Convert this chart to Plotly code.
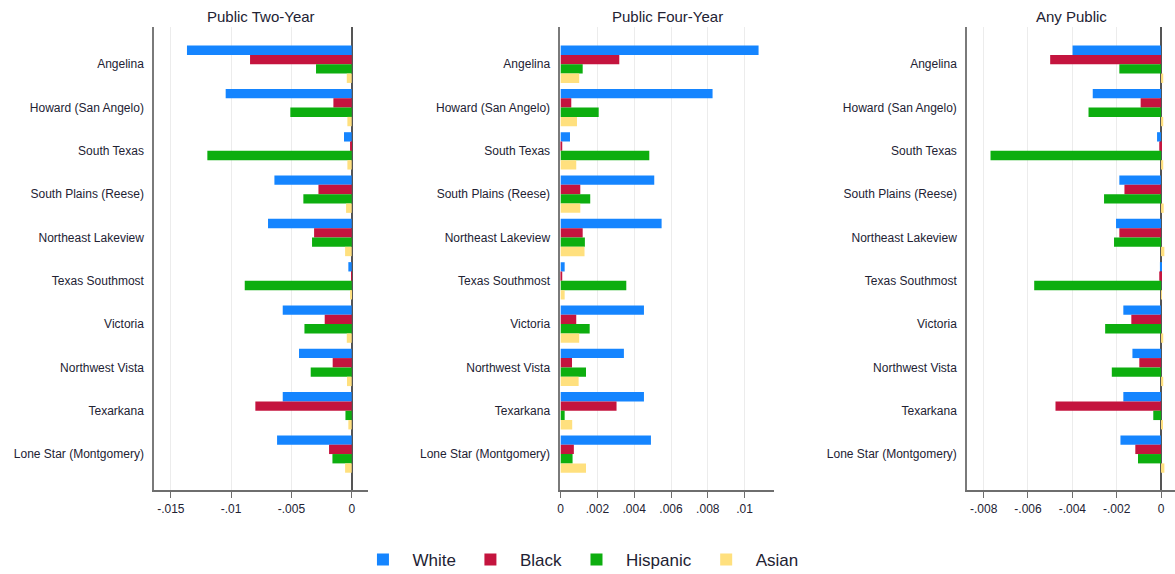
import plotly.graph_objects as go

colleges = ["Angelina", "Howard (San Angelo)", "South Texas", "South Plains (Reese)",
            "Northeast Lakeview", "Texas Southmost", "Victoria", "Northwest Vista",
            "Texarkana", "Lone Star (Montgomery)"]
groups = ["White", "Black", "Hispanic", "Asian"]
panel_titles = ["Public Two-Year", "Public Four-Year", "Any Public"]

# Public Two-Year
two_white = [-0.01366, -0.01045, -0.00064, -0.00641, -0.00694, -0.00028, -0.00572, -0.00437, -0.00572, -0.00619]
two_black = [-0.00843, -0.00152, -0.00014, -0.00276, -0.00312, -0.00005, -0.00224, -0.00158, -0.00799, -0.00188]
two_hisp = [-0.00296, -0.00509, -0.01197, -0.00401, -0.00329, -0.00887, -0.00392, -0.00340, -0.00052, -0.00160]
two_asian = [-0.00041, -0.00036, -0.00036, -0.00047, -0.00055, -0.00010, -0.00041, -0.00039, -0.00028, -0.00055]

# Public Four-Year
four_white = [0.01076, 0.00826, 0.00051, 0.00509, 0.00549, 0.00022, 0.00453, 0.00344, 0.00453, 0.00491]
four_black = [0.00319, 0.00058, 0.00005, 0.00107, 0.00120, 0.00005, 0.00085, 0.00062, 0.00304, 0.00072]
four_hisp = [0.00120, 0.00207, 0.00482, 0.00161, 0.00132, 0.00357, 0.00158, 0.00138, 0.00022, 0.00065]
four_asian = [0.00101, 0.00089, 0.00085, 0.00107, 0.00130, 0.00022, 0.00101, 0.00098, 0.00063, 0.00138]

# Any Public
any_white = [-0.00399, -0.00308, -0.00018, -0.00188, -0.00203, -0.00005, -0.00170, -0.00129, -0.00170, -0.00183]
any_black = [-0.00500, -0.00092, -0.00008, -0.00165, -0.00188, -0.00008, -0.00134, -0.00098, -0.00476, -0.00116]
any_hisp = [-0.00188, -0.00327, -0.00769, -0.00257, -0.00212, -0.00572, -0.00252, -0.00222, -0.00035, -0.00104]
any_asian = [0.00010, 0.00010, 0.00010, 0.00012, 0.00015, 0.00003, 0.00010, 0.00010, 0.00008, 0.00015]

two_ticks = [-0.015, -0.01, -0.005, 0]
two_ticktext = ["-.015", "-.01", "-.005", "0"]
four_ticks = [0, 0.002, 0.004, 0.006, 0.008, 0.01]
four_ticktext = ["0", ".002", ".004", ".006", ".008", ".01"]
any_ticks = [-0.008, -0.006, -0.004, -0.002, 0]
any_ticktext = ["-.008", "-.006", "-.004", "-.002", "0"]

colors = ["#1585FF", "#C4143E", "#0DAE0F", "#FFE07E"]

panels = [
    ([two_white, two_black, two_hisp, two_asian], two_ticks, two_ticktext, [-0.01639, 0.00135], [0.1311, 0.3132], True),
    ([four_white, four_black, four_hisp, four_asian], four_ticks, four_ticktext, [-0.00002, 0.01161], [0.4768, 0.6589], False),
    ([any_white, any_black, any_hisp, any_asian], any_ticks, any_ticktext, [-0.00875, 0.00063], [0.823, 1.0], True),
]

FONT = "Liberation Sans, Arial, sans-serif"
TXT = "#222233"

fig = go.Figure()
layout = {}
for i, (series, tv, tt, rng, dom, zl) in enumerate(panels):
    n = "" if i == 0 else str(i + 1)
    for g, vals, col in zip(groups, series, colors):
        fig.add_trace(go.Bar(
            x=vals, y=colleges, orientation="h", name=g,
            marker=dict(color=col, line=dict(width=0)),
            xaxis="x" + n, yaxis="y" + n,
            legendgroup=g, showlegend=(i == 0),
        ))
    layout["xaxis" + n] = dict(
        domain=dom, range=rng, anchor="y" + n,
        tickvals=tv, ticktext=tt, showgrid=True, gridcolor="#ececec", gridwidth=1,
        zeroline=zl, zerolinecolor="#555555", zerolinewidth=1.5,
        showline=True, linecolor="#6e6e6e", linewidth=1.5,
        ticks="outside", ticklen=6, tickcolor="#6e6e6e", tickwidth=1,
        ticklabelstandoff=1,
        tickfont=dict(size=12, color=TXT, family=FONT),
    )
    layout["yaxis" + n] = dict(
        domain=[0, 1], anchor="x" + n, type="category",
        categoryorder="array", categoryarray=colleges,
        range=[9.83, -0.86],
        showline=True, linecolor="#7a7a7a", linewidth=1.5,
        showgrid=False, zeroline=False, ticks="",
        ticklabelstandoff=6,
        tickfont=dict(size=12, color=TXT, family=FONT),
    )
    fig.add_annotation(
        text=panel_titles[i], xref="paper", yref="paper",
        x=(dom[0] + dom[1]) / 2, y=1.0216, xanchor="center", yanchor="middle",
        showarrow=False, font=dict(size=15, color=TXT, family=FONT),
    )

fig.update_layout(
    **layout,
    width=1175, height=574,
    barmode="group", bargap=0.138, bargroupgap=0,
    plot_bgcolor="white", paper_bgcolor="white",
    margin=dict(l=0, r=0, t=27, b=84, autoexpand=False),
    font=dict(family=FONT, color=TXT),
    legend=dict(orientation="h", xref="container", yref="container",
                x=0.4923, xanchor="center", y=0.0244, yanchor="middle",
                font=dict(size=17, color=TXT, family=FONT), itemwidth=49,
                traceorder="normal"),
)

fig.write_html("out.html")
